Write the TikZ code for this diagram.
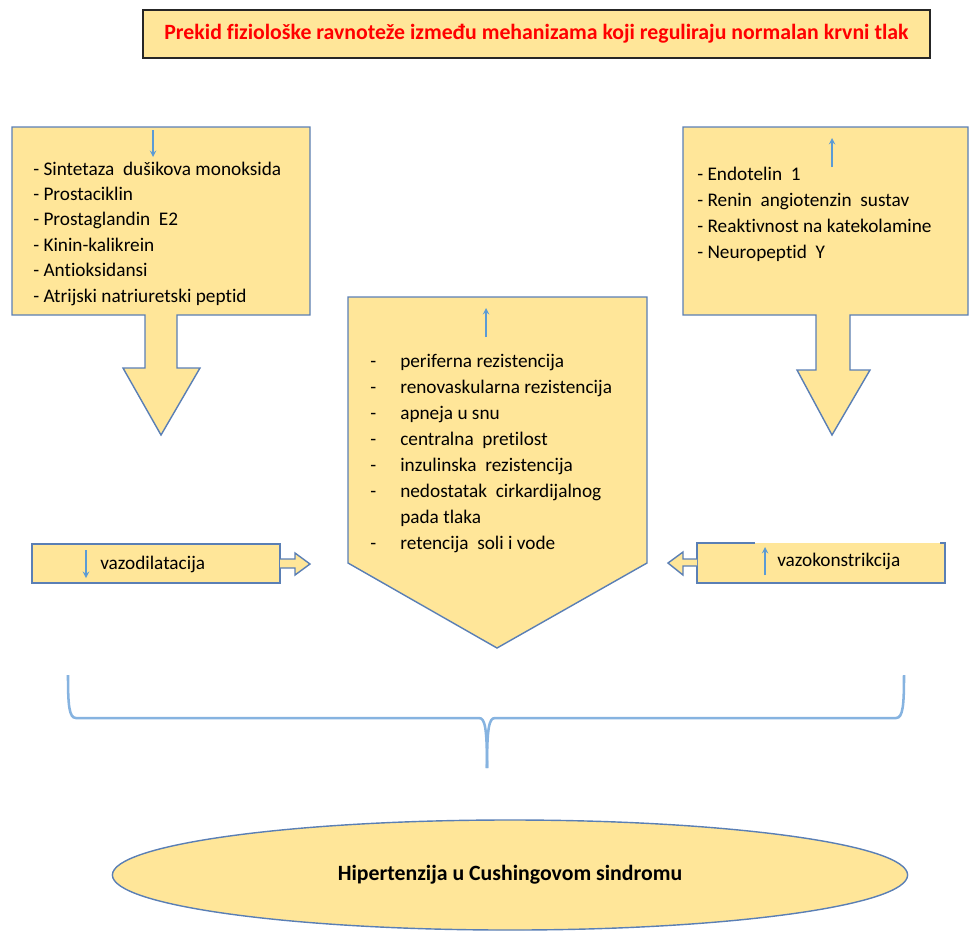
\documentclass[tikz,border=0pt]{standalone}
\usepackage{fontspec}
\setmainfont[Ligatures=NoCommon]{Carlito}
\usetikzlibrary{shapes.geometric}
\definecolor{boxfill}{HTML}{FFE699}
\definecolor{boxline}{HTML}{5A7FB5}
\definecolor{arrblue}{HTML}{5B9BD5}
\definecolor{bracecol}{HTML}{86B3E0}
\begin{document}
\begin{tikzpicture}[>=stealth, x=0.025cm, y=-0.025cm,
    shapebox/.style={fill=boxfill, draw=boxline, line width=1pt, line join=miter},
    listtext/.style={anchor=west, inner sep=0pt, font=\fontsize{13.7}{16}\selectfont, text height=1.6ex, text depth=.4ex},
    bluearrow/.style={->, draw=arrblue, line width=1pt}]
\useasboundingbox (0,0) rectangle (970,935);

% top box
\node[fill=boxfill, draw=black!85, line width=1.4pt, minimum width=19.675cm, minimum height=1.2cm,
      text=red, font=\fontsize{15.5}{18}\selectfont\bfseries] (title) at (536.5,34)
      {Prekid fiziološke ravnoteže između mehanizama koji reguliraju normalan krvni tlak};

% left callout
\draw[shapebox] (12,127)--(310,127)--(310,315)--(177,315)--(177,368)--(200,368)--(161,435)
    --(123,368)--(145,368)--(145,315)--(12,315)--cycle;
\draw[bluearrow] (153,130)--(153,157);
\foreach \t [count=\i] in {Sintetaza \ dušikova monoksida, Prostaciklin, Prostaglandin \ E2,
    Kinin-kalikrein, Antioksidansi, Atrijski natriuretski peptid}
{
    \node[listtext] (left\i) at (33,171+25.4*\i-25.4) {- \t};
}

% right callout
\draw[shapebox] (683,127)--(968,127)--(968,315)--(850,315)--(850,370)--(870,370)--(832,435)
    --(797,370)--(816,370)--(816,315)--(683,315)--cycle;
\draw[bluearrow] (832,167)--(832,138);
\foreach \t [count=\i] in {Endotelin \ 1, Renin \ angiotenzin \ sustav,
    Reaktivnost na katekolamine, Neuropeptid \ Y}
{
    \node[listtext] (right\i) at (697,176+26*\i-26) {- \t};
}

% middle pentagon
\draw[shapebox] (348,297)--(647,297)--(647,563)--(497,648)--(348,563)--cycle;
\draw[bluearrow] (486,337)--(486,308);
\foreach \t/\d [count=\i] in {periferna rezistencija/-, renovaskularna rezistencija/-,
    apneja u snu/-, centralna \ pretilost/-, inzulinska \ rezistencija/-,
    nedostatak \ cirkardijalnog/-, pada tlaka/{}, retencija \ soli i vode/-}
{
    \node[listtext] (mid\i) at (400,363+26*\i-26) {\t};
    \node[listtext] at (370,363+26*\i-26) {\d};
}

% vazodilatacija
\draw[shapebox] (32,544) rectangle (280,583);
\draw[shapebox] (280,559)--(295,559)--(295,553)--(310,564)--(295,575)--(295,568)--(280,568);
\draw[bluearrow] (86,550)--(86,578);
\node[listtext] (vazod) at (100,565) {vazodilatacija};

% vazokonstrikcija
\fill[boxfill] (697,543) rectangle (945,583);
\draw[boxline, line width=1pt] (755,543)--(697,543)--(697,583)--(945,583)--(945,543)--(940,543);
\draw[shapebox] (697,559)--(683,559)--(683,552)--(668,563)--(683,575)--(683,566)--(697,566);
\draw[bluearrow] (765,575)--(765,547);
\node[listtext] (vazok) at (777,562) {vazokonstrikcija};

% brace
\draw[bracecol, line width=1.8pt] (68,675) .. controls (68,705) and (69,718) .. (76,718) -- (479,718)
    .. controls (485,718) and (487,728) .. (487,768);
\draw[bracecol, line width=1.8pt] (904,675) .. controls (904,705) and (903,718) .. (896,718) -- (495,718)
    .. controls (489,718) and (487,728) .. (487,768);

% bottom ellipse
\node[ellipse, shapebox, minimum width=19.875cm, minimum height=2.75cm,
      font=\fontsize{15.5}{18}\selectfont\bfseries] (hyp) at (510,875) {Hipertenzija u Cushingovom sindromu};

\end{tikzpicture}
\end{document}
